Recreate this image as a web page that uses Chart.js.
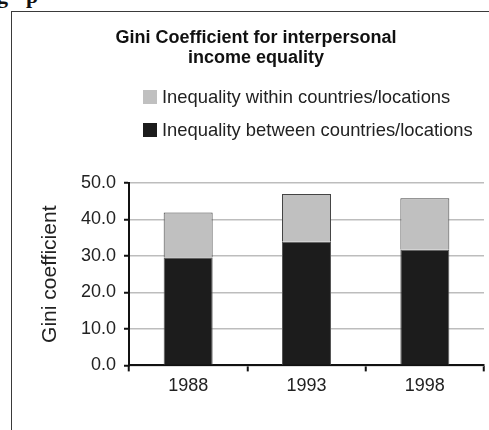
<!DOCTYPE html>
<html>
<head>
<meta charset="utf-8">
<script src="https://cdn.jsdelivr.net/npm/chart.js@4.4.1/dist/chart.umd.min.js"></script>
<style>
  html, body { margin: 0; padding: 0; background: #fff; overflow: hidden; }
  #wrap { position: relative; width: 489px; height: 430px; overflow: hidden; }
  #frame { position: absolute; left: 11px; top: 11px; width: 700px; height: 700px; border: 1.5px solid #3a3a3a; }
  .cut { position: absolute; top: -17px; font: bold 22px "Liberation Serif", serif; color: #111; }
  canvas { position: absolute; left: 0; top: 0; }
</style>
</head>
<body>
<div id="wrap">
  <span class="cut" style="left:-3px">g</span>
  <span class="cut" style="left:26px">p</span>
  <div id="frame"></div>
  <canvas id="gini" width="489" height="430"></canvas>
</div>
<script>
// values
const years = ['1988', '1993', '1998'];
const betweenValues = [29.6, 33.9, 31.7];
const withinValues = [12.3, 13.1, 14.1];
const titleLines = ['Gini Coefficient for interpersonal', 'income equality'];
const yTicks = [0, 10, 20, 30, 40, 50];

const family = '"Liberation Sans", Arial, Helvetica, sans-serif';

// title + stacked legend, drawn like the old spreadsheet chart
const header = {
  id: 'header',
  afterDraw(chart) {
    let ctx = chart.ctx;
    ctx.save();
    ctx.fillStyle = '#111';
    ctx.textAlign = 'center';
    ctx.textBaseline = 'middle';
    ctx.font = 'bold 18px ' + family;
    titleLines.forEach((t, i) => ctx.fillText(t, 256, 38.5 + i * 20));

    ctx.textAlign = 'left';
    ctx.font = '18.4px ' + family;
    let items = chart.data.datasets.slice().reverse();
    items.forEach((ds, i) => {
      let y = 97 + i * 33;
      ctx.fillStyle = ds.backgroundColor;
      ctx.fillRect(143, y - 7, 14, 14);
      ctx.fillStyle = '#222';
      ctx.fillText(ds.label, 162, y + 1);
    });
    ctx.restore();
  }
};

let data = {
  labels: years,
  datasets: [
    {
      label: 'Inequality between countries/locations',
      data: betweenValues,
      backgroundColor: '#1c1c1c',
      borderColor: '#555',
      borderWidth: 1
    },
    {
      label: 'Inequality within countries/locations',
      data: withinValues,
      backgroundColor: '#c0c0c0',
      borderColor: '#444',
      borderWidth: 1
    }
  ]
};

let options = {
  responsive: false,
  animation: false,
  layout: { padding: { top: 183, left: 34, right: 5, bottom: 29 } },
  datasets: { bar: { barPercentage: 0.414, categoryPercentage: 1 } },
  plugins: {
    legend: { display: false },
    title: { display: false },
    tooltip: { enabled: false }
  },
  scales: {
    x: {
      stacked: true,
      border: { color: '#111', width: 2 },
      grid: {
        offset: true,
        color: c => c.index === years.length ? '#a8a8a8' : 'rgba(0,0,0,0)',
        lineWidth: 1.5,
        tickColor: '#111',
        tickWidth: 2,
        tickLength: 6
      },
      ticks: { font: { size: 18, family }, color: '#222', padding: 4 }
    },
    y: {
      stacked: true,
      min: 0,
      max: 50,
      border: { color: '#111', width: 2 },
      grid: { color: '#bdbdbd', lineWidth: 1.5, tickColor: '#111', tickWidth: 2, tickLength: 5 },
      afterBuildTicks: s => { s.ticks = yTicks.map(v => ({ value: v })); },
      ticks: { callback: v => v.toFixed(1), font: { size: 18, family }, color: '#222', padding: 8 },
      title: {
        display: true,
        text: 'Gini coefficient',
        font: { size: 21, family },
        color: '#222',
        padding: { top: 4, bottom: 0 }
      },
      afterFit: s => { s.width = 95; }
    }
  }
};

new Chart('gini', { type: 'bar', data, options, plugins: [header] });
</script>
</body>
</html>
